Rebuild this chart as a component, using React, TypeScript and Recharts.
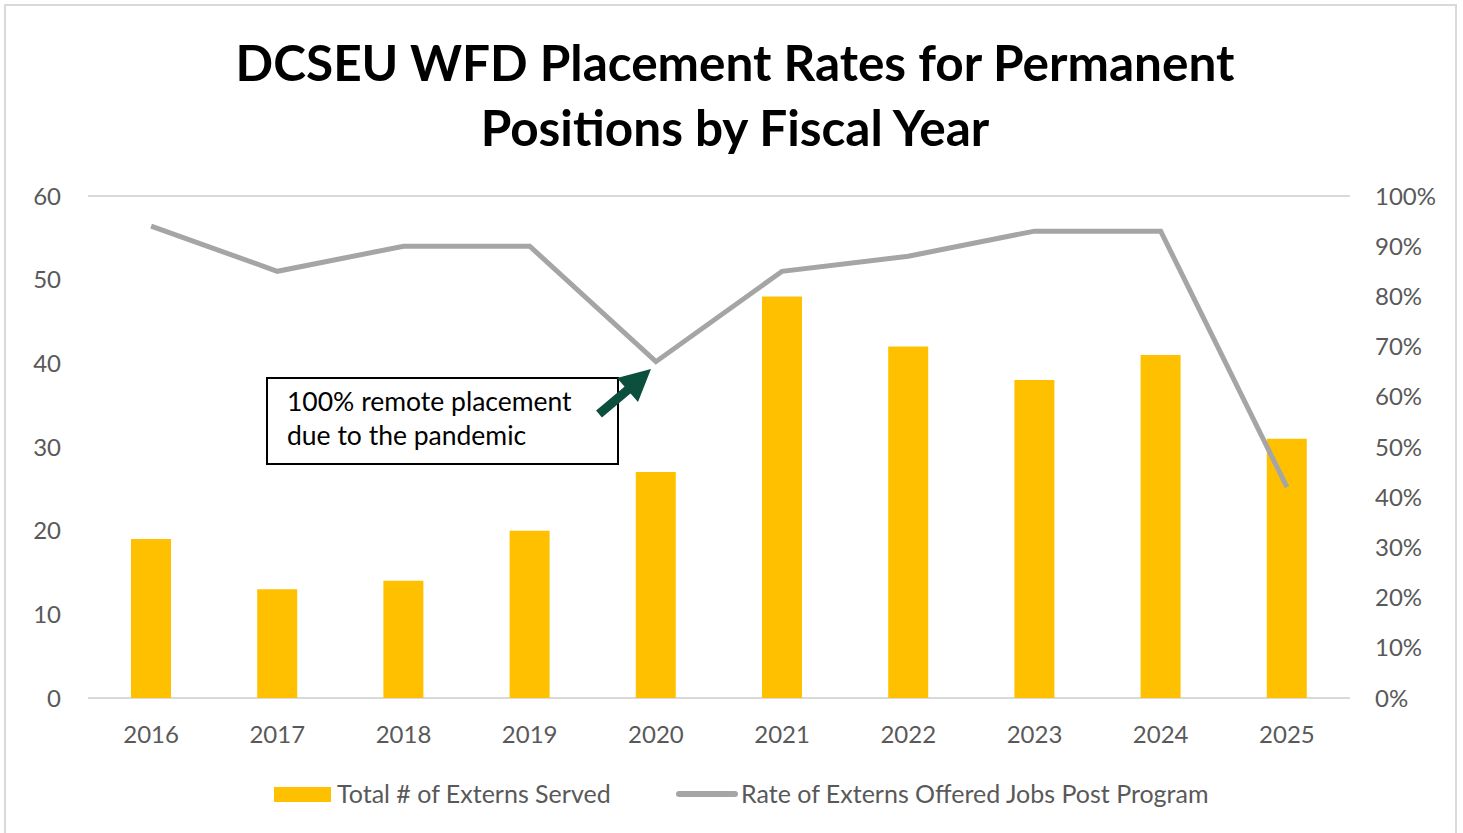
import { ComposedChart, Bar, Line, XAxis, YAxis, CartesianGrid, Legend } from 'recharts';

const years = ['2016', '2017', '2018', '2019', '2020', '2021', '2022', '2023', '2024', '2025'];
const externsServed = [19, 13, 14, 20, 27, 48, 42, 38, 41, 31];
const offeredRate = [0.94, 0.85, 0.9, 0.9, 0.67, 0.85, 0.88, 0.93, 0.93, 0.42];
const leftTicks = [0, 10, 20, 30, 40, 50, 60];
const rightTicks = [0, 0.1, 0.2, 0.3, 0.4, 0.5, 0.6, 0.7, 0.8, 0.9, 1];

const data = years.map((y, i) => ({ year: y, served: externsServed[i], rate: offeredRate[i] }));

const FONT = 'Lato, "Open Sans", sans-serif';
const TICK = { fill: '#595959', fontSize: 24, fontFamily: FONT };

const LegendContent = () => (
  <div style={{ position: 'relative', height: 40, fontFamily: FONT, fontSize: 25, color: '#595959' }}>
    <div style={{ position: 'absolute', left: 274, top: 10, width: 57, height: 15, background: '#ffc000' }} />
    <span style={{ position: 'absolute', left: 337, top: 1 }}>Total # of Externs Served</span>
    <div style={{ position: 'absolute', left: 676, top: 14, width: 62, height: 6, borderRadius: 3, background: '#a5a5a5' }} />
    <span style={{ position: 'absolute', left: 741, top: 1 }}>Rate of Externs Offered Jobs Post Program</span>
  </div>
);

export default function App() {
  return (
    <div style={{ position: 'absolute', left: 0, top: 0, width: 1463, height: 833, background: '#fff', overflow: 'hidden' }}>
      <div style={{ position: 'absolute', left: 4, top: 4, width: 1453, height: 840, border: '2px solid #d9d9d9', boxSizing: 'border-box' }} />
      <div style={{ position: 'absolute', left: 0, top: 30, width: 1470, textAlign: 'center', fontFamily: FONT, fontWeight: 700, fontSize: 49.5, lineHeight: '65px', color: '#000' }}>
        DCSEU WFD Placement Rates for Permanent<br />Positions by Fiscal Year
      </div>
      <ComposedChart
        width={1463}
        height={833}
        data={data}
        margin={{ top: 196, right: 43, left: 18, bottom: 15 }}
        style={{ position: 'absolute', left: 0, top: 0 }}
      >
        <CartesianGrid vertical={false} stroke="#d9d9d9" strokeWidth={2} />
        <XAxis dataKey="year" axisLine={false} tickLine={false} tick={TICK} tickMargin={22} height={60} />
        <YAxis yAxisId="left" domain={[0, 60]} ticks={leftTicks} axisLine={false} tickLine={false} tick={TICK} width={70} tickMargin={21} />
        <YAxis
          yAxisId="right"
          orientation="right"
          domain={[0, 1]}
          ticks={rightTicks}
          axisLine={false}
          tickLine={false}
          tick={TICK}
          width={70}
          tickMargin={19}
          tickFormatter={(v: number) => `${Math.round(v * 100)}%`}
        />
        <Bar yAxisId="left" dataKey="served" fill="#ffc000" barSize={40} isAnimationActive={false} />
        <Line yAxisId="right" dataKey="rate" stroke="#a5a5a5" strokeWidth={5} dot={false} type="linear" isAnimationActive={false} />
        <Legend verticalAlign="bottom" height={60} content={<LegendContent />} wrapperStyle={{ left: 0, width: 1463, bottom: -4 }} />
      </ComposedChart>
      <div style={{ position: 'absolute', left: 266, top: 377, width: 353, height: 88, border: '2px solid #000', boxSizing: 'border-box', background: '#fff', fontFamily: FONT, fontSize: 26.5, lineHeight: '34px', color: '#000', padding: '5px 0 0 19px' }}>
        100% remote placement<br />due to the pandemic
      </div>
      <svg width={1463} height={833} style={{ position: 'absolute', left: 0, top: 0, pointerEvents: 'none' }}>
        <line x1={599} y1={414} x2={630} y2={388} stroke="#0b4f3c" strokeWidth={9} />
        <polygon points="651,369 617,378 638,402" fill="#0b4f3c" />
      </svg>
    </div>
  );
}
